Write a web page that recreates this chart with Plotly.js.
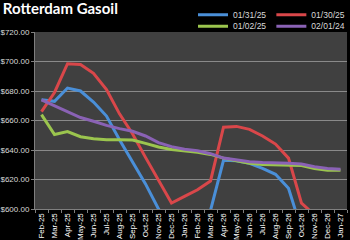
<!DOCTYPE html>
<html>
<head>
<meta charset="utf-8">
<script src="https://cdn.plot.ly/plotly-3.0.1.min.js"></script>
<style>html,body{margin:0;padding:0;background:#000;}#chart{width:350px;height:240px;}</style>
</head>
<body>
<div id="chart"></div>
<script>
var categories = ["Feb-25","Mar-25","Apr-25","May-25","Jun-25","Jul-25","Aug-25","Sep-25","Oct-25","Nov-25","Dec-25","Jan-26","Feb-26","Mar-26","Apr-26","May-26","Jun-26","Jul-26","Aug-26","Sep-26","Oct-26","Nov-26","Dec-26","Jan-27"];
var seriesNames = ["01/31/25","01/30/25","01/02/25","02/01/24"];
var s013125 = [674,673,682,680,672.5,663,647,632,617,600,588,586,590,599,633,632.7,631,627.5,623.5,614,586,585,584,583];
var s013025 = [666,679,698.5,698,692,681,664.5,651,635,619,604,608.5,613,619,655.5,656,654,649.5,644,634.5,604,596,594,593];
var s010225 = [664,650.5,652.5,649,647.7,647,647,646.8,644.5,642,640.3,639.5,638.5,637,634.5,632.7,631,630.2,630,630,629.5,627.5,626.3,626.3];
var s020124 = [674,670,666,662,659.5,656.7,654.5,652.7,649.5,645,642.3,640.5,639.5,637.5,634.5,633,632,631.5,631.5,631,630.5,628.7,627.5,627];
var colors = ["#4A8FD8","#D9474A","#9BC54E","#8A62B5"];
var yTicks = [600,620,640,660,680,700,720];
var yTickText = yTicks.map(function(v){ return '$' + v.toFixed(2); });

var allSeries = [s013125, s013025, s010225, s020124];
var legends = ["legend","legend","legend2","legend2"];
var traces = allSeries.map(function(s,i){
  return {x: categories, y: s, type:'scatter', mode:'lines', name: seriesNames[i],
    line:{color: colors[i], width:3}, legend: legends[i], cliponaxis:true};
});

var legFont = {family:'"Liberation Sans", Arial, sans-serif', size:8.5, color:'#d9d9d9'};
var layout = {
  width:350, height:240,
  paper_bgcolor:'#000', plot_bgcolor:'#404040',
  margin:{l:35, r:0, t:24, b:31},
  title:{text:'<b>Rotterdam Gasoil</b>', x:0.008, xanchor:'left', y:0.985, yanchor:'top',
    font:{family:'Lato, "Open Sans", sans-serif', size:15, color:'#ffffff'}},
  showlegend:true,
  legend:{orientation:'h', x:1.01, xanchor:'right', y:1.18, yanchor:'top', bgcolor:'rgba(0,0,0,0)',
    font:legFont, itemwidth:30, tracegroupgap:0, traceorder:'normal'},
  legend2:{orientation:'h', x:1.01, xanchor:'right', y:1.115, yanchor:'top', bgcolor:'rgba(0,0,0,0)',
    font:legFont, itemwidth:30, tracegroupgap:0, traceorder:'normal'},
  xaxis:{type:'category', categoryorder:'array', categoryarray:categories,
    range:[-0.5, categories.length-0.5], tickangle:-90,
    tickfont:{family:'"Liberation Sans", Arial, sans-serif', size:8, color:'#ffffff'},
    showgrid:false, showline:true, linecolor:'#7f7f7f', linewidth:1,
    ticks:'outside', tickson:'boundaries', ticklen:3, tickcolor:'#7f7f7f', zeroline:false, fixedrange:true},
  yaxis:{range:[600,720], tickmode:'array', tickvals:yTicks, ticktext:yTickText,
    tickfont:{family:'"Liberation Sans", Arial, sans-serif', size:8, color:'#d9d9d9'},
    showgrid:true, gridcolor:'#8a8a8a', gridwidth:1, showline:true, linecolor:'#7f7f7f',
    ticks:'outside', ticklen:3, tickcolor:'#7f7f7f', zeroline:false, fixedrange:true}
};

Plotly.newPlot('chart', traces, layout, {staticPlot:true, displayModeBar:false});
</script>
</body>
</html>
